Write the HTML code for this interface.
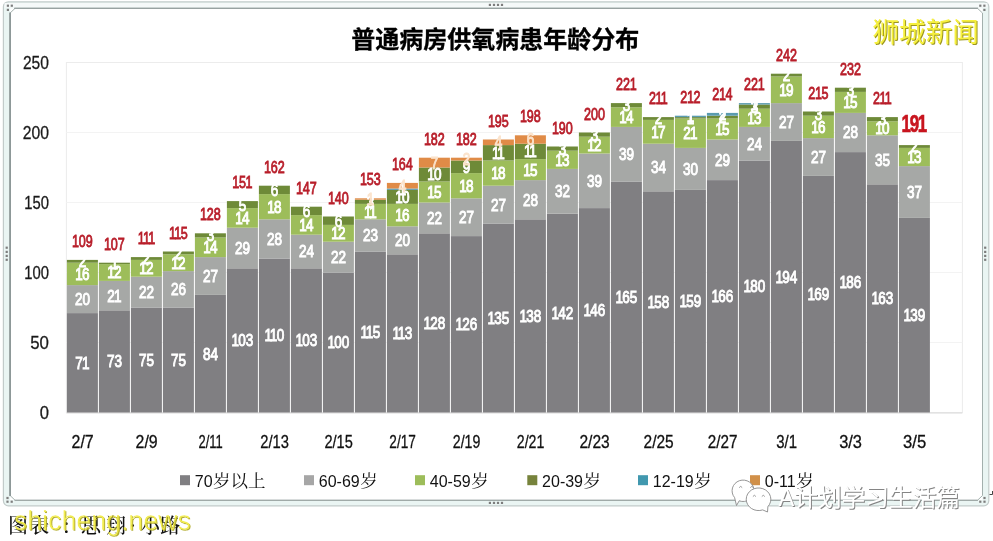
<!DOCTYPE html>
<html lang="zh"><head><meta charset="utf-8"><title>普通病房供氧病患年龄分布</title>
<style>
html,body{margin:0;padding:0;background:#fff;}
body{width:993px;height:541px;overflow:hidden;}
svg{display:block;}
text{font-family:"Liberation Sans","Noto Sans CJK SC",sans-serif;}
.ax{font-family:"Liberation Sans",sans-serif;}
.seg{font-family:"Liberation Sans",sans-serif;font-weight:normal;stroke:#fff;stroke-width:0.95px;}
.seg.o{stroke:#fbe3cc;}
.tot{font-family:"Liberation Sans",sans-serif;font-weight:normal;stroke:#b81e2a;stroke-width:0.85px;}
.tot.b{font-weight:bold;stroke:#c8141e;stroke-width:0.7px;}
.cjk{font-family:"Liberation Sans","Noto Sans CJK SC",sans-serif;}
.lat{font-family:"Liberation Sans","Noto Serif CJK SC",sans-serif;}
.song{font-family:"Liberation Serif","Noto Serif CJK SC",serif;}
</style></head><body>
<svg width="993" height="541" viewBox="0 0 993 541">
<rect x="3.4" y="1.8" width="985.4" height="504" rx="5" ry="5" fill="#eaf5f3" stroke="#c2cbca" stroke-width="1.2"/>
<rect x="4.5" y="3" width="983" height="4.6" fill="#f5f9f9"/>
<rect x="10.2" y="8.3" width="972.3" height="492" fill="#ffffff"/>
<path d="M10.1 495.500V13l5-4.700H977.500l5 4.700V495.500l-5 4.800H15.100z" fill="#ffffff" stroke="#a3b0ad" stroke-width="1"/>
<line x1="10.1" x2="10.1" y1="12.500" y2="496" stroke="#8b9595" stroke-width="1.700"/>
<line x1="14" x2="978" y1="8.3" y2="8.3" stroke="#8f9898" stroke-width="1.100"/>
<line x1="14.500" x2="978" y1="500.3" y2="500.3" stroke="#9aa3a2" stroke-width="1.100"/>
<rect x="488.8" y="3.8" width="2.200" height="2.200" fill="#7d7d7d"/>
<rect x="488.8" y="501.8" width="2.200" height="2.200" fill="#7d7d7d"/>
<rect x="492.9" y="3.8" width="2.200" height="2.200" fill="#7d7d7d"/>
<rect x="492.9" y="501.8" width="2.200" height="2.200" fill="#7d7d7d"/>
<rect x="496.9" y="3.8" width="2.200" height="2.200" fill="#7d7d7d"/>
<rect x="496.9" y="501.8" width="2.200" height="2.200" fill="#7d7d7d"/>
<rect x="500.9" y="3.8" width="2.200" height="2.200" fill="#7d7d7d"/>
<rect x="500.9" y="501.8" width="2.200" height="2.200" fill="#7d7d7d"/>
<rect x="5.6" y="246.6" width="2.200" height="2.200" fill="#7d7d7d"/>
<rect x="984.1" y="246.6" width="2.200" height="2.200" fill="#7d7d7d"/>
<rect x="5.6" y="250.8" width="2.200" height="2.200" fill="#7d7d7d"/>
<rect x="984.1" y="250.8" width="2.200" height="2.200" fill="#7d7d7d"/>
<rect x="5.6" y="254.8" width="2.200" height="2.200" fill="#7d7d7d"/>
<rect x="984.1" y="254.8" width="2.200" height="2.200" fill="#7d7d7d"/>
<rect x="5.6" y="258.7" width="2.200" height="2.200" fill="#7d7d7d"/>
<rect x="984.1" y="258.7" width="2.200" height="2.200" fill="#7d7d7d"/>
<rect x="6.8" y="4.6" width="2.200" height="2.200" fill="#7d7d7d"/>
<rect x="10.7" y="4.6" width="2.200" height="2.200" fill="#7d7d7d"/>
<rect x="6.8" y="8.8" width="2.200" height="2.200" fill="#7d7d7d"/>
<rect x="979.2" y="4.6" width="2.200" height="2.200" fill="#7d7d7d"/>
<rect x="983.3" y="4.6" width="2.200" height="2.200" fill="#7d7d7d"/>
<rect x="983.3" y="8.8" width="2.200" height="2.200" fill="#7d7d7d"/>
<rect x="6.4" y="496.9" width="2.200" height="2.200" fill="#7d7d7d"/>
<rect x="6.4" y="500.6" width="2.200" height="2.200" fill="#7d7d7d"/>
<rect x="10.6" y="500.6" width="2.200" height="2.200" fill="#7d7d7d"/>
<rect x="983.4" y="496.9" width="2.200" height="2.200" fill="#7d7d7d"/>
<rect x="983.4" y="500.6" width="2.200" height="2.200" fill="#7d7d7d"/>
<rect x="979.2" y="500.6" width="2.200" height="2.200" fill="#7d7d7d"/>
<rect x="66.4" y="62.5" width="896.0" height="350.0" fill="#ffffff" stroke="#ececec" stroke-width="1"/>
<line x1="66.4" x2="962.4" y1="342.5" y2="342.5" stroke="#f3f3f3" stroke-width="1"/>
<line x1="66.4" x2="962.4" y1="272.5" y2="272.5" stroke="#f3f3f3" stroke-width="1"/>
<line x1="66.4" x2="962.4" y1="202.5" y2="202.5" stroke="#f3f3f3" stroke-width="1"/>
<line x1="66.4" x2="962.4" y1="132.5" y2="132.5" stroke="#f3f3f3" stroke-width="1"/>
<line x1="66.4" x2="962.4" y1="413.0" y2="413.0" stroke="#d9d9d9" stroke-width="1"/>
<text x="48.9" y="419.0" text-anchor="end" font-size="18" fill="#1a1a1a" stroke="#1a1a1a" stroke-width="0.3" textLength="9.2" lengthAdjust="spacingAndGlyphs" class="ax">0</text>
<text x="48.9" y="349.0" text-anchor="end" font-size="18" fill="#1a1a1a" stroke="#1a1a1a" stroke-width="0.3" textLength="18.7" lengthAdjust="spacingAndGlyphs" class="ax">50</text>
<text x="48.9" y="279.0" text-anchor="end" font-size="18" fill="#1a1a1a" stroke="#1a1a1a" stroke-width="0.3" textLength="24.7" lengthAdjust="spacingAndGlyphs" class="ax">100</text>
<text x="48.9" y="209.0" text-anchor="end" font-size="18" fill="#1a1a1a" stroke="#1a1a1a" stroke-width="0.3" textLength="24.7" lengthAdjust="spacingAndGlyphs" class="ax">150</text>
<text x="48.9" y="139.0" text-anchor="end" font-size="18" fill="#1a1a1a" stroke="#1a1a1a" stroke-width="0.3" textLength="26.2" lengthAdjust="spacingAndGlyphs" class="ax">200</text>
<text x="48.9" y="69.0" text-anchor="end" font-size="18" fill="#1a1a1a" stroke="#1a1a1a" stroke-width="0.3" textLength="26.0" lengthAdjust="spacingAndGlyphs" class="ax">250</text>
<rect x="66.9" y="313.10" width="31.0" height="99.40" fill="#807f82"/>
<rect x="66.9" y="285.10" width="31.0" height="28.00" fill="#a6a8a6"/>
<rect x="66.9" y="262.70" width="31.0" height="22.40" fill="#9dbd5a"/>
<rect x="66.9" y="259.90" width="31.0" height="2.80" fill="#6e8a38"/>
<rect x="98.9" y="310.30" width="31.0" height="102.20" fill="#807f82"/>
<rect x="98.9" y="280.90" width="31.0" height="29.40" fill="#a6a8a6"/>
<rect x="98.9" y="264.10" width="31.0" height="16.80" fill="#9dbd5a"/>
<rect x="98.9" y="262.70" width="31.0" height="1.40" fill="#6e8a38"/>
<rect x="130.9" y="307.50" width="31.0" height="105.00" fill="#807f82"/>
<rect x="130.9" y="276.70" width="31.0" height="30.80" fill="#a6a8a6"/>
<rect x="130.9" y="259.90" width="31.0" height="16.80" fill="#9dbd5a"/>
<rect x="130.9" y="257.10" width="31.0" height="2.80" fill="#6e8a38"/>
<rect x="162.9" y="307.50" width="31.0" height="105.00" fill="#807f82"/>
<rect x="162.9" y="271.10" width="31.0" height="36.40" fill="#a6a8a6"/>
<rect x="162.9" y="254.30" width="31.0" height="16.80" fill="#9dbd5a"/>
<rect x="162.9" y="251.50" width="31.0" height="2.80" fill="#6e8a38"/>
<rect x="194.9" y="294.90" width="31.0" height="117.60" fill="#807f82"/>
<rect x="194.9" y="257.10" width="31.0" height="37.80" fill="#a6a8a6"/>
<rect x="194.9" y="237.50" width="31.0" height="19.60" fill="#9dbd5a"/>
<rect x="194.9" y="233.30" width="31.0" height="4.20" fill="#6e8a38"/>
<rect x="226.9" y="268.30" width="31.0" height="144.20" fill="#807f82"/>
<rect x="226.9" y="227.70" width="31.0" height="40.60" fill="#a6a8a6"/>
<rect x="226.9" y="208.10" width="31.0" height="19.60" fill="#9dbd5a"/>
<rect x="226.9" y="201.10" width="31.0" height="7.00" fill="#6e8a38"/>
<rect x="258.9" y="258.50" width="31.0" height="154.00" fill="#807f82"/>
<rect x="258.9" y="219.30" width="31.0" height="39.20" fill="#a6a8a6"/>
<rect x="258.9" y="194.10" width="31.0" height="25.20" fill="#9dbd5a"/>
<rect x="258.9" y="185.70" width="31.0" height="8.40" fill="#6e8a38"/>
<rect x="290.9" y="268.30" width="31.0" height="144.20" fill="#807f82"/>
<rect x="290.9" y="234.70" width="31.0" height="33.60" fill="#a6a8a6"/>
<rect x="290.9" y="215.10" width="31.0" height="19.60" fill="#9dbd5a"/>
<rect x="290.9" y="206.70" width="31.0" height="8.40" fill="#6e8a38"/>
<rect x="322.9" y="272.50" width="31.0" height="140.00" fill="#807f82"/>
<rect x="322.9" y="241.70" width="31.0" height="30.80" fill="#a6a8a6"/>
<rect x="322.9" y="224.90" width="31.0" height="16.80" fill="#9dbd5a"/>
<rect x="322.9" y="216.50" width="31.0" height="8.40" fill="#6e8a38"/>
<rect x="354.9" y="251.50" width="31.0" height="161.00" fill="#807f82"/>
<rect x="354.9" y="219.30" width="31.0" height="32.20" fill="#a6a8a6"/>
<rect x="354.9" y="203.90" width="31.0" height="15.40" fill="#9dbd5a"/>
<rect x="354.9" y="199.70" width="31.0" height="4.20" fill="#6e8a38"/>
<rect x="354.9" y="198.30" width="31.0" height="1.40" fill="#e08b47"/>
<rect x="386.9" y="254.30" width="31.0" height="158.20" fill="#807f82"/>
<rect x="386.9" y="226.30" width="31.0" height="28.00" fill="#a6a8a6"/>
<rect x="386.9" y="203.90" width="31.0" height="22.40" fill="#9dbd5a"/>
<rect x="386.9" y="189.90" width="31.0" height="14.00" fill="#6e8a38"/>
<rect x="386.9" y="188.50" width="31.0" height="1.40" fill="#5a9bb0"/>
<rect x="386.9" y="182.90" width="31.0" height="5.60" fill="#e08b47"/>
<rect x="418.9" y="233.30" width="31.0" height="179.20" fill="#807f82"/>
<rect x="418.9" y="202.50" width="31.0" height="30.80" fill="#a6a8a6"/>
<rect x="418.9" y="181.50" width="31.0" height="21.00" fill="#9dbd5a"/>
<rect x="418.9" y="167.50" width="31.0" height="14.00" fill="#6e8a38"/>
<rect x="418.9" y="157.70" width="31.0" height="9.80" fill="#e08b47"/>
<rect x="450.9" y="236.10" width="31.0" height="176.40" fill="#807f82"/>
<rect x="450.9" y="198.30" width="31.0" height="37.80" fill="#a6a8a6"/>
<rect x="450.9" y="173.10" width="31.0" height="25.20" fill="#9dbd5a"/>
<rect x="450.9" y="160.50" width="31.0" height="12.60" fill="#6e8a38"/>
<rect x="450.9" y="157.70" width="31.0" height="2.80" fill="#e08b47"/>
<rect x="482.9" y="223.50" width="31.0" height="189.00" fill="#807f82"/>
<rect x="482.9" y="185.70" width="31.0" height="37.80" fill="#a6a8a6"/>
<rect x="482.9" y="160.50" width="31.0" height="25.20" fill="#9dbd5a"/>
<rect x="482.9" y="145.10" width="31.0" height="15.40" fill="#6e8a38"/>
<rect x="482.9" y="139.50" width="31.0" height="5.60" fill="#e08b47"/>
<rect x="514.9" y="219.30" width="31.0" height="193.20" fill="#807f82"/>
<rect x="514.9" y="180.10" width="31.0" height="39.20" fill="#a6a8a6"/>
<rect x="514.9" y="159.10" width="31.0" height="21.00" fill="#9dbd5a"/>
<rect x="514.9" y="143.70" width="31.0" height="15.40" fill="#6e8a38"/>
<rect x="514.9" y="135.30" width="31.0" height="8.40" fill="#e08b47"/>
<rect x="546.9" y="213.70" width="31.0" height="198.80" fill="#807f82"/>
<rect x="546.9" y="168.90" width="31.0" height="44.80" fill="#a6a8a6"/>
<rect x="546.9" y="150.70" width="31.0" height="18.20" fill="#9dbd5a"/>
<rect x="546.9" y="146.50" width="31.0" height="4.20" fill="#6e8a38"/>
<rect x="578.9" y="208.10" width="31.0" height="204.40" fill="#807f82"/>
<rect x="578.9" y="153.50" width="31.0" height="54.60" fill="#a6a8a6"/>
<rect x="578.9" y="136.70" width="31.0" height="16.80" fill="#9dbd5a"/>
<rect x="578.9" y="132.50" width="31.0" height="4.20" fill="#6e8a38"/>
<rect x="610.9" y="181.50" width="31.0" height="231.00" fill="#807f82"/>
<rect x="610.9" y="126.90" width="31.0" height="54.60" fill="#a6a8a6"/>
<rect x="610.9" y="107.30" width="31.0" height="19.60" fill="#9dbd5a"/>
<rect x="610.9" y="103.10" width="31.0" height="4.20" fill="#6e8a38"/>
<rect x="642.9" y="191.30" width="31.0" height="221.20" fill="#807f82"/>
<rect x="642.9" y="143.70" width="31.0" height="47.60" fill="#a6a8a6"/>
<rect x="642.9" y="119.90" width="31.0" height="23.80" fill="#9dbd5a"/>
<rect x="642.9" y="117.10" width="31.0" height="2.80" fill="#6e8a38"/>
<rect x="674.9" y="189.90" width="31.0" height="222.60" fill="#807f82"/>
<rect x="674.9" y="147.90" width="31.0" height="42.00" fill="#a6a8a6"/>
<rect x="674.9" y="118.50" width="31.0" height="29.40" fill="#9dbd5a"/>
<rect x="674.9" y="117.10" width="31.0" height="1.40" fill="#6e8a38"/>
<rect x="674.9" y="115.70" width="31.0" height="1.40" fill="#5a9bb0"/>
<rect x="706.9" y="180.10" width="31.0" height="232.40" fill="#807f82"/>
<rect x="706.9" y="139.50" width="31.0" height="40.60" fill="#a6a8a6"/>
<rect x="706.9" y="118.50" width="31.0" height="21.00" fill="#9dbd5a"/>
<rect x="706.9" y="115.70" width="31.0" height="2.80" fill="#6e8a38"/>
<rect x="706.9" y="112.90" width="31.0" height="2.80" fill="#5a9bb0"/>
<rect x="738.9" y="160.50" width="31.0" height="252.00" fill="#807f82"/>
<rect x="738.9" y="126.90" width="31.0" height="33.60" fill="#a6a8a6"/>
<rect x="738.9" y="108.70" width="31.0" height="18.20" fill="#9dbd5a"/>
<rect x="738.9" y="104.50" width="31.0" height="4.20" fill="#6e8a38"/>
<rect x="738.9" y="103.10" width="31.0" height="1.40" fill="#5a9bb0"/>
<rect x="770.9" y="140.90" width="31.0" height="271.60" fill="#807f82"/>
<rect x="770.9" y="103.10" width="31.0" height="37.80" fill="#a6a8a6"/>
<rect x="770.9" y="76.50" width="31.0" height="26.60" fill="#9dbd5a"/>
<rect x="770.9" y="73.70" width="31.0" height="2.80" fill="#6e8a38"/>
<rect x="802.9" y="175.90" width="31.0" height="236.60" fill="#807f82"/>
<rect x="802.9" y="138.10" width="31.0" height="37.80" fill="#a6a8a6"/>
<rect x="802.9" y="115.70" width="31.0" height="22.40" fill="#9dbd5a"/>
<rect x="802.9" y="111.50" width="31.0" height="4.20" fill="#6e8a38"/>
<rect x="834.9" y="152.10" width="31.0" height="260.40" fill="#807f82"/>
<rect x="834.9" y="112.90" width="31.0" height="39.20" fill="#a6a8a6"/>
<rect x="834.9" y="91.90" width="31.0" height="21.00" fill="#9dbd5a"/>
<rect x="834.9" y="87.70" width="31.0" height="4.20" fill="#6e8a38"/>
<rect x="866.9" y="184.30" width="31.0" height="228.20" fill="#807f82"/>
<rect x="866.9" y="135.30" width="31.0" height="49.00" fill="#a6a8a6"/>
<rect x="866.9" y="121.30" width="31.0" height="14.00" fill="#9dbd5a"/>
<rect x="866.9" y="117.10" width="31.0" height="4.20" fill="#6e8a38"/>
<rect x="898.9" y="217.90" width="31.0" height="194.60" fill="#807f82"/>
<rect x="898.9" y="166.10" width="31.0" height="51.80" fill="#a6a8a6"/>
<rect x="898.9" y="147.90" width="31.0" height="18.20" fill="#9dbd5a"/>
<rect x="898.9" y="145.10" width="31.0" height="2.80" fill="#6e8a38"/>
<text transform="translate(82.4,368.7) scale(0.82,1)" text-anchor="middle" font-size="16.5" fill="#ffffff" class="seg" dx="0 -0.70">71</text>
<text transform="translate(82.4,305.0) scale(0.82,1)" text-anchor="middle" font-size="16.5" fill="#ffffff" class="seg">20</text>
<text transform="translate(82.4,279.8) scale(0.82,1)" text-anchor="middle" font-size="16.5" fill="#ffffff" class="seg" dx="0 -0.70">16</text>
<text transform="translate(82.4,267.2) scale(0.82,1)" text-anchor="middle" font-size="16.5" fill="#ffffff" class="seg">2</text>
<text transform="translate(82.4,246.9) scale(0.74,1)" text-anchor="middle" font-size="17.0" fill="#b81e2a" class="tot" dx="0 -0.55 0">109</text>
<text transform="translate(114.4,367.3) scale(0.82,1)" text-anchor="middle" font-size="16.5" fill="#ffffff" class="seg">73</text>
<text transform="translate(114.4,301.5) scale(0.82,1)" text-anchor="middle" font-size="16.5" fill="#ffffff" class="seg" dx="0 -0.70">21</text>
<text transform="translate(114.4,278.4) scale(0.82,1)" text-anchor="middle" font-size="16.5" fill="#ffffff" class="seg" dx="0 -0.70">12</text>
<text transform="translate(114.4,269.3) scale(0.82,1)" text-anchor="middle" font-size="16.5" fill="#ffffff" class="seg">1</text>
<text transform="translate(114.4,249.7) scale(0.74,1)" text-anchor="middle" font-size="17.0" fill="#b81e2a" class="tot" dx="0 -0.55 0">107</text>
<text transform="translate(146.4,365.9) scale(0.82,1)" text-anchor="middle" font-size="16.5" fill="#ffffff" class="seg">75</text>
<text transform="translate(146.4,298.0) scale(0.82,1)" text-anchor="middle" font-size="16.5" fill="#ffffff" class="seg">22</text>
<text transform="translate(146.4,274.2) scale(0.82,1)" text-anchor="middle" font-size="16.5" fill="#ffffff" class="seg" dx="0 -0.70">12</text>
<text transform="translate(146.4,264.4) scale(0.82,1)" text-anchor="middle" font-size="16.5" fill="#ffffff" class="seg">2</text>
<text transform="translate(146.4,244.1) scale(0.74,1)" text-anchor="middle" font-size="17.0" fill="#b81e2a" class="tot" dx="0 -1.10 -1.10">111</text>
<text transform="translate(178.4,365.9) scale(0.82,1)" text-anchor="middle" font-size="16.5" fill="#ffffff" class="seg">75</text>
<text transform="translate(178.4,295.2) scale(0.82,1)" text-anchor="middle" font-size="16.5" fill="#ffffff" class="seg">26</text>
<text transform="translate(178.4,268.6) scale(0.82,1)" text-anchor="middle" font-size="16.5" fill="#ffffff" class="seg" dx="0 -0.70">12</text>
<text transform="translate(178.4,258.8) scale(0.82,1)" text-anchor="middle" font-size="16.5" fill="#ffffff" class="seg">2</text>
<text transform="translate(178.4,238.5) scale(0.74,1)" text-anchor="middle" font-size="17.0" fill="#b81e2a" class="tot" dx="0 -1.10 -0.55">115</text>
<text transform="translate(210.4,359.6) scale(0.82,1)" text-anchor="middle" font-size="16.5" fill="#ffffff" class="seg">84</text>
<text transform="translate(210.4,281.9) scale(0.82,1)" text-anchor="middle" font-size="16.5" fill="#ffffff" class="seg">27</text>
<text transform="translate(210.4,253.2) scale(0.82,1)" text-anchor="middle" font-size="16.5" fill="#ffffff" class="seg" dx="0 -0.70">14</text>
<text transform="translate(210.4,241.3) scale(0.82,1)" text-anchor="middle" font-size="16.5" fill="#ffffff" class="seg">3</text>
<text transform="translate(210.4,220.3) scale(0.74,1)" text-anchor="middle" font-size="17.0" fill="#b81e2a" class="tot" dx="0 -0.55 0">128</text>
<text transform="translate(242.4,346.3) scale(0.82,1)" text-anchor="middle" font-size="16.5" fill="#ffffff" class="seg" dx="0 -0.70 0">103</text>
<text transform="translate(242.4,253.9) scale(0.82,1)" text-anchor="middle" font-size="16.5" fill="#ffffff" class="seg">29</text>
<text transform="translate(242.4,223.8) scale(0.82,1)" text-anchor="middle" font-size="16.5" fill="#ffffff" class="seg" dx="0 -0.70">14</text>
<text transform="translate(242.4,210.5) scale(0.82,1)" text-anchor="middle" font-size="16.5" fill="#ffffff" class="seg">5</text>
<text transform="translate(242.4,188.1) scale(0.74,1)" text-anchor="middle" font-size="17.0" fill="#b81e2a" class="tot" dx="0 -0.55 -0.55">151</text>
<text transform="translate(274.4,341.4) scale(0.82,1)" text-anchor="middle" font-size="16.5" fill="#ffffff" class="seg" dx="0 -1.40 -0.70">110</text>
<text transform="translate(274.4,244.8) scale(0.82,1)" text-anchor="middle" font-size="16.5" fill="#ffffff" class="seg">28</text>
<text transform="translate(274.4,212.6) scale(0.82,1)" text-anchor="middle" font-size="16.5" fill="#ffffff" class="seg" dx="0 -0.70">18</text>
<text transform="translate(274.4,195.8) scale(0.82,1)" text-anchor="middle" font-size="16.5" fill="#ffffff" class="seg">6</text>
<text transform="translate(274.4,172.7) scale(0.74,1)" text-anchor="middle" font-size="17.0" fill="#b81e2a" class="tot" dx="0 -0.55 0">162</text>
<text transform="translate(306.4,346.3) scale(0.82,1)" text-anchor="middle" font-size="16.5" fill="#ffffff" class="seg" dx="0 -0.70 0">103</text>
<text transform="translate(306.4,257.4) scale(0.82,1)" text-anchor="middle" font-size="16.5" fill="#ffffff" class="seg">24</text>
<text transform="translate(306.4,230.8) scale(0.82,1)" text-anchor="middle" font-size="16.5" fill="#ffffff" class="seg" dx="0 -0.70">14</text>
<text transform="translate(306.4,216.8) scale(0.82,1)" text-anchor="middle" font-size="16.5" fill="#ffffff" class="seg">6</text>
<text transform="translate(306.4,193.7) scale(0.74,1)" text-anchor="middle" font-size="17.0" fill="#b81e2a" class="tot" dx="0 -0.55 0">147</text>
<text transform="translate(338.4,348.4) scale(0.82,1)" text-anchor="middle" font-size="16.5" fill="#ffffff" class="seg" dx="0 -0.70 0">100</text>
<text transform="translate(338.4,263.0) scale(0.82,1)" text-anchor="middle" font-size="16.5" fill="#ffffff" class="seg">22</text>
<text transform="translate(338.4,239.2) scale(0.82,1)" text-anchor="middle" font-size="16.5" fill="#ffffff" class="seg" dx="0 -0.70">12</text>
<text transform="translate(338.4,226.6) scale(0.82,1)" text-anchor="middle" font-size="16.5" fill="#ffffff" class="seg">6</text>
<text transform="translate(338.4,203.5) scale(0.74,1)" text-anchor="middle" font-size="17.0" fill="#b81e2a" class="tot" dx="0 -0.55 0">140</text>
<text transform="translate(370.4,337.9) scale(0.82,1)" text-anchor="middle" font-size="16.5" fill="#ffffff" class="seg" dx="0 -1.40 -0.70">115</text>
<text transform="translate(370.4,241.3) scale(0.82,1)" text-anchor="middle" font-size="16.5" fill="#ffffff" class="seg">23</text>
<text transform="translate(370.4,217.5) scale(0.82,1)" text-anchor="middle" font-size="16.5" fill="#ffffff" class="seg" dx="0 -1.40">11</text>
<text transform="translate(370.4,207.7) scale(0.82,1)" text-anchor="middle" font-size="16.5" fill="#ffffff" class="seg">3</text>
<text transform="translate(370.4,204.9) scale(0.82,1)" text-anchor="middle" font-size="16.5" fill="#fbe3cc" class="seg o">1</text>
<text transform="translate(370.4,185.3) scale(0.74,1)" text-anchor="middle" font-size="17.0" fill="#b81e2a" class="tot" dx="0 -0.55 0">153</text>
<text transform="translate(402.4,339.3) scale(0.82,1)" text-anchor="middle" font-size="16.5" fill="#ffffff" class="seg" dx="0 -1.40 -0.70">113</text>
<text transform="translate(402.4,246.2) scale(0.82,1)" text-anchor="middle" font-size="16.5" fill="#ffffff" class="seg">20</text>
<text transform="translate(402.4,221.0) scale(0.82,1)" text-anchor="middle" font-size="16.5" fill="#ffffff" class="seg" dx="0 -0.70">16</text>
<text transform="translate(402.4,202.8) scale(0.82,1)" text-anchor="middle" font-size="16.5" fill="#ffffff" class="seg" dx="0 -0.70">10</text>
<text transform="translate(402.4,195.1) scale(0.82,1)" text-anchor="middle" font-size="16.5" fill="#ffffff" class="seg">1</text>
<text transform="translate(402.4,191.6) scale(0.82,1)" text-anchor="middle" font-size="16.5" fill="#fbe3cc" class="seg o">4</text>
<text transform="translate(402.4,169.9) scale(0.74,1)" text-anchor="middle" font-size="17.0" fill="#b81e2a" class="tot" dx="0 -0.55 0">164</text>
<text transform="translate(434.4,328.8) scale(0.82,1)" text-anchor="middle" font-size="16.5" fill="#ffffff" class="seg" dx="0 -0.70 0">128</text>
<text transform="translate(434.4,223.8) scale(0.82,1)" text-anchor="middle" font-size="16.5" fill="#ffffff" class="seg">22</text>
<text transform="translate(434.4,197.9) scale(0.82,1)" text-anchor="middle" font-size="16.5" fill="#ffffff" class="seg" dx="0 -0.70">15</text>
<text transform="translate(434.4,180.4) scale(0.82,1)" text-anchor="middle" font-size="16.5" fill="#ffffff" class="seg" dx="0 -0.70">10</text>
<text transform="translate(434.4,168.5) scale(0.82,1)" text-anchor="middle" font-size="16.5" fill="#fbe3cc" class="seg o">7</text>
<text transform="translate(434.4,144.7) scale(0.74,1)" text-anchor="middle" font-size="17.0" fill="#b81e2a" class="tot" dx="0 -0.55 0">182</text>
<text transform="translate(466.4,330.2) scale(0.82,1)" text-anchor="middle" font-size="16.5" fill="#ffffff" class="seg" dx="0 -0.70 0">126</text>
<text transform="translate(466.4,223.1) scale(0.82,1)" text-anchor="middle" font-size="16.5" fill="#ffffff" class="seg">27</text>
<text transform="translate(466.4,191.6) scale(0.82,1)" text-anchor="middle" font-size="16.5" fill="#ffffff" class="seg" dx="0 -0.70">18</text>
<text transform="translate(466.4,172.7) scale(0.82,1)" text-anchor="middle" font-size="16.5" fill="#ffffff" class="seg">9</text>
<text transform="translate(466.4,165.0) scale(0.82,1)" text-anchor="middle" font-size="16.5" fill="#fbe3cc" class="seg o">2</text>
<text transform="translate(466.4,144.7) scale(0.74,1)" text-anchor="middle" font-size="17.0" fill="#b81e2a" class="tot" dx="0 -0.55 0">182</text>
<text transform="translate(498.4,323.9) scale(0.82,1)" text-anchor="middle" font-size="16.5" fill="#ffffff" class="seg" dx="0 -0.70 0">135</text>
<text transform="translate(498.4,210.5) scale(0.82,1)" text-anchor="middle" font-size="16.5" fill="#ffffff" class="seg">27</text>
<text transform="translate(498.4,179.0) scale(0.82,1)" text-anchor="middle" font-size="16.5" fill="#ffffff" class="seg" dx="0 -0.70">18</text>
<text transform="translate(498.4,158.7) scale(0.82,1)" text-anchor="middle" font-size="16.5" fill="#ffffff" class="seg" dx="0 -1.40">11</text>
<text transform="translate(498.4,148.2) scale(0.82,1)" text-anchor="middle" font-size="16.5" fill="#fbe3cc" class="seg o">4</text>
<text transform="translate(498.4,126.5) scale(0.74,1)" text-anchor="middle" font-size="17.0" fill="#b81e2a" class="tot" dx="0 -0.55 0">195</text>
<text transform="translate(530.4,321.8) scale(0.82,1)" text-anchor="middle" font-size="16.5" fill="#ffffff" class="seg" dx="0 -0.70 0">138</text>
<text transform="translate(530.4,205.6) scale(0.82,1)" text-anchor="middle" font-size="16.5" fill="#ffffff" class="seg">28</text>
<text transform="translate(530.4,175.5) scale(0.82,1)" text-anchor="middle" font-size="16.5" fill="#ffffff" class="seg" dx="0 -0.70">15</text>
<text transform="translate(530.4,157.3) scale(0.82,1)" text-anchor="middle" font-size="16.5" fill="#ffffff" class="seg" dx="0 -1.40">11</text>
<text transform="translate(530.4,145.4) scale(0.82,1)" text-anchor="middle" font-size="16.5" fill="#fbe3cc" class="seg o">6</text>
<text transform="translate(530.4,122.3) scale(0.74,1)" text-anchor="middle" font-size="17.0" fill="#b81e2a" class="tot" dx="0 -0.55 0">198</text>
<text transform="translate(562.4,319.0) scale(0.82,1)" text-anchor="middle" font-size="16.5" fill="#ffffff" class="seg" dx="0 -0.70 0">142</text>
<text transform="translate(562.4,197.2) scale(0.82,1)" text-anchor="middle" font-size="16.5" fill="#ffffff" class="seg">32</text>
<text transform="translate(562.4,165.7) scale(0.82,1)" text-anchor="middle" font-size="16.5" fill="#ffffff" class="seg" dx="0 -0.70">13</text>
<text transform="translate(562.4,154.5) scale(0.82,1)" text-anchor="middle" font-size="16.5" fill="#ffffff" class="seg">3</text>
<text transform="translate(562.4,133.5) scale(0.74,1)" text-anchor="middle" font-size="17.0" fill="#b81e2a" class="tot" dx="0 -0.55 0">190</text>
<text transform="translate(594.4,316.2) scale(0.82,1)" text-anchor="middle" font-size="16.5" fill="#ffffff" class="seg" dx="0 -0.70 0">146</text>
<text transform="translate(594.4,186.7) scale(0.82,1)" text-anchor="middle" font-size="16.5" fill="#ffffff" class="seg">39</text>
<text transform="translate(594.4,151.0) scale(0.82,1)" text-anchor="middle" font-size="16.5" fill="#ffffff" class="seg" dx="0 -0.70">12</text>
<text transform="translate(594.4,140.5) scale(0.82,1)" text-anchor="middle" font-size="16.5" fill="#ffffff" class="seg">3</text>
<text transform="translate(594.4,119.5) scale(0.74,1)" text-anchor="middle" font-size="17.0" fill="#b81e2a" class="tot">200</text>
<text transform="translate(626.4,302.9) scale(0.82,1)" text-anchor="middle" font-size="16.5" fill="#ffffff" class="seg" dx="0 -0.70 0">165</text>
<text transform="translate(626.4,160.1) scale(0.82,1)" text-anchor="middle" font-size="16.5" fill="#ffffff" class="seg">39</text>
<text transform="translate(626.4,123.0) scale(0.82,1)" text-anchor="middle" font-size="16.5" fill="#ffffff" class="seg" dx="0 -0.70">14</text>
<text transform="translate(626.4,111.1) scale(0.82,1)" text-anchor="middle" font-size="16.5" fill="#ffffff" class="seg">3</text>
<text transform="translate(626.4,90.1) scale(0.74,1)" text-anchor="middle" font-size="17.0" fill="#b81e2a" class="tot" dx="0 0 -0.55">221</text>
<text transform="translate(658.4,307.8) scale(0.82,1)" text-anchor="middle" font-size="16.5" fill="#ffffff" class="seg" dx="0 -0.70 0">158</text>
<text transform="translate(658.4,173.4) scale(0.82,1)" text-anchor="middle" font-size="16.5" fill="#ffffff" class="seg">34</text>
<text transform="translate(658.4,137.7) scale(0.82,1)" text-anchor="middle" font-size="16.5" fill="#ffffff" class="seg" dx="0 -0.70">17</text>
<text transform="translate(658.4,124.4) scale(0.82,1)" text-anchor="middle" font-size="16.5" fill="#ffffff" class="seg">2</text>
<text transform="translate(658.4,104.1) scale(0.74,1)" text-anchor="middle" font-size="17.0" fill="#b81e2a" class="tot" dx="0 -0.55 -1.10">211</text>
<text transform="translate(690.4,307.1) scale(0.82,1)" text-anchor="middle" font-size="16.5" fill="#ffffff" class="seg" dx="0 -0.70 0">159</text>
<text transform="translate(690.4,174.8) scale(0.82,1)" text-anchor="middle" font-size="16.5" fill="#ffffff" class="seg">30</text>
<text transform="translate(690.4,139.1) scale(0.82,1)" text-anchor="middle" font-size="16.5" fill="#ffffff" class="seg" dx="0 -0.70">21</text>
<text transform="translate(690.4,123.7) scale(0.82,1)" text-anchor="middle" font-size="16.5" fill="#ffffff" class="seg">1</text>
<text transform="translate(690.4,122.3) scale(0.82,1)" text-anchor="middle" font-size="16.5" fill="#ffffff" class="seg">1</text>
<text transform="translate(690.4,102.7) scale(0.74,1)" text-anchor="middle" font-size="17.0" fill="#b81e2a" class="tot" dx="0 -0.55 -0.55">212</text>
<text transform="translate(722.4,302.2) scale(0.82,1)" text-anchor="middle" font-size="16.5" fill="#ffffff" class="seg" dx="0 -0.70 0">166</text>
<text transform="translate(722.4,165.7) scale(0.82,1)" text-anchor="middle" font-size="16.5" fill="#ffffff" class="seg">29</text>
<text transform="translate(722.4,134.9) scale(0.82,1)" text-anchor="middle" font-size="16.5" fill="#ffffff" class="seg" dx="0 -0.70">15</text>
<text transform="translate(722.4,123.0) scale(0.82,1)" text-anchor="middle" font-size="16.5" fill="#ffffff" class="seg">2</text>
<text transform="translate(722.4,120.2) scale(0.82,1)" text-anchor="middle" font-size="16.5" fill="#ffffff" class="seg">2</text>
<text transform="translate(722.4,99.9) scale(0.74,1)" text-anchor="middle" font-size="17.0" fill="#b81e2a" class="tot" dx="0 -0.55 -0.55">214</text>
<text transform="translate(754.4,292.4) scale(0.82,1)" text-anchor="middle" font-size="16.5" fill="#ffffff" class="seg" dx="0 -0.70 0">180</text>
<text transform="translate(754.4,149.6) scale(0.82,1)" text-anchor="middle" font-size="16.5" fill="#ffffff" class="seg">24</text>
<text transform="translate(754.4,123.7) scale(0.82,1)" text-anchor="middle" font-size="16.5" fill="#ffffff" class="seg" dx="0 -0.70">13</text>
<text transform="translate(754.4,112.5) scale(0.82,1)" text-anchor="middle" font-size="16.5" fill="#ffffff" class="seg">3</text>
<text transform="translate(754.4,109.7) scale(0.82,1)" text-anchor="middle" font-size="16.5" fill="#ffffff" class="seg">1</text>
<text transform="translate(754.4,90.1) scale(0.74,1)" text-anchor="middle" font-size="17.0" fill="#b81e2a" class="tot" dx="0 0 -0.55">221</text>
<text transform="translate(786.4,282.6) scale(0.82,1)" text-anchor="middle" font-size="16.5" fill="#ffffff" class="seg" dx="0 -0.70 0">194</text>
<text transform="translate(786.4,127.9) scale(0.82,1)" text-anchor="middle" font-size="16.5" fill="#ffffff" class="seg">27</text>
<text transform="translate(786.4,95.7) scale(0.82,1)" text-anchor="middle" font-size="16.5" fill="#ffffff" class="seg" dx="0 -0.70">19</text>
<text transform="translate(786.4,81.0) scale(0.82,1)" text-anchor="middle" font-size="16.5" fill="#ffffff" class="seg">2</text>
<text transform="translate(786.4,60.7) scale(0.74,1)" text-anchor="middle" font-size="17.0" fill="#b81e2a" class="tot">242</text>
<text transform="translate(818.4,300.1) scale(0.82,1)" text-anchor="middle" font-size="16.5" fill="#ffffff" class="seg" dx="0 -0.70 0">169</text>
<text transform="translate(818.4,162.9) scale(0.82,1)" text-anchor="middle" font-size="16.5" fill="#ffffff" class="seg">27</text>
<text transform="translate(818.4,132.8) scale(0.82,1)" text-anchor="middle" font-size="16.5" fill="#ffffff" class="seg" dx="0 -0.70">16</text>
<text transform="translate(818.4,119.5) scale(0.82,1)" text-anchor="middle" font-size="16.5" fill="#ffffff" class="seg">3</text>
<text transform="translate(818.4,98.5) scale(0.74,1)" text-anchor="middle" font-size="17.0" fill="#b81e2a" class="tot" dx="0 -0.55 -0.55">215</text>
<text transform="translate(850.4,288.2) scale(0.82,1)" text-anchor="middle" font-size="16.5" fill="#ffffff" class="seg" dx="0 -0.70 0">186</text>
<text transform="translate(850.4,138.4) scale(0.82,1)" text-anchor="middle" font-size="16.5" fill="#ffffff" class="seg">28</text>
<text transform="translate(850.4,108.3) scale(0.82,1)" text-anchor="middle" font-size="16.5" fill="#ffffff" class="seg" dx="0 -0.70">15</text>
<text transform="translate(850.4,95.7) scale(0.82,1)" text-anchor="middle" font-size="16.5" fill="#ffffff" class="seg">3</text>
<text transform="translate(850.4,74.7) scale(0.74,1)" text-anchor="middle" font-size="17.0" fill="#b81e2a" class="tot">232</text>
<text transform="translate(882.4,304.3) scale(0.82,1)" text-anchor="middle" font-size="16.5" fill="#ffffff" class="seg" dx="0 -0.70 0">163</text>
<text transform="translate(882.4,165.7) scale(0.82,1)" text-anchor="middle" font-size="16.5" fill="#ffffff" class="seg">35</text>
<text transform="translate(882.4,134.2) scale(0.82,1)" text-anchor="middle" font-size="16.5" fill="#ffffff" class="seg" dx="0 -0.70">10</text>
<text transform="translate(882.4,125.1) scale(0.82,1)" text-anchor="middle" font-size="16.5" fill="#ffffff" class="seg">3</text>
<text transform="translate(882.4,104.1) scale(0.74,1)" text-anchor="middle" font-size="17.0" fill="#b81e2a" class="tot" dx="0 -0.55 -1.10">211</text>
<text transform="translate(914.4,321.1) scale(0.82,1)" text-anchor="middle" font-size="16.5" fill="#ffffff" class="seg" dx="0 -0.70 0">139</text>
<text transform="translate(914.4,197.9) scale(0.82,1)" text-anchor="middle" font-size="16.5" fill="#ffffff" class="seg">37</text>
<text transform="translate(914.4,162.9) scale(0.82,1)" text-anchor="middle" font-size="16.5" fill="#ffffff" class="seg" dx="0 -0.70">13</text>
<text transform="translate(914.4,152.4) scale(0.82,1)" text-anchor="middle" font-size="16.5" fill="#ffffff" class="seg">2</text>
<text transform="translate(914.4,132.1) scale(0.72,1)" text-anchor="middle" font-size="23.5" fill="#c8141e" class="tot b" dx="0 -1.80 -1.80">191</text>
<text x="82.6" y="448.3" text-anchor="middle" font-size="18" fill="#111" stroke="#111" stroke-width="0.3" textLength="22.2" lengthAdjust="spacingAndGlyphs" class="ax">2/7</text>
<text x="146.6" y="448.3" text-anchor="middle" font-size="18" fill="#111" stroke="#111" stroke-width="0.3" textLength="22.1" lengthAdjust="spacingAndGlyphs" class="ax">2/9</text>
<text x="210.6" y="448.3" text-anchor="middle" font-size="18" fill="#111" stroke="#111" stroke-width="0.3" textLength="24.3" lengthAdjust="spacingAndGlyphs" class="ax">2/11</text>
<text x="274.6" y="448.3" text-anchor="middle" font-size="18" fill="#111" stroke="#111" stroke-width="0.3" textLength="28.7" lengthAdjust="spacingAndGlyphs" class="ax">2/13</text>
<text x="338.6" y="448.3" text-anchor="middle" font-size="18" fill="#111" stroke="#111" stroke-width="0.3" textLength="28.4" lengthAdjust="spacingAndGlyphs" class="ax">2/15</text>
<text x="402.6" y="448.3" text-anchor="middle" font-size="18" fill="#111" stroke="#111" stroke-width="0.3" textLength="26.5" lengthAdjust="spacingAndGlyphs" class="ax">2/17</text>
<text x="466.6" y="448.3" text-anchor="middle" font-size="18" fill="#111" stroke="#111" stroke-width="0.3" textLength="27.6" lengthAdjust="spacingAndGlyphs" class="ax">2/19</text>
<text x="530.6" y="448.3" text-anchor="middle" font-size="18" fill="#111" stroke="#111" stroke-width="0.3" textLength="27.6" lengthAdjust="spacingAndGlyphs" class="ax">2/21</text>
<text x="594.6" y="448.3" text-anchor="middle" font-size="18" fill="#111" stroke="#111" stroke-width="0.3" textLength="30.3" lengthAdjust="spacingAndGlyphs" class="ax">2/23</text>
<text x="658.6" y="448.3" text-anchor="middle" font-size="18" fill="#111" stroke="#111" stroke-width="0.3" textLength="30.2" lengthAdjust="spacingAndGlyphs" class="ax">2/25</text>
<text x="722.6" y="448.3" text-anchor="middle" font-size="18" fill="#111" stroke="#111" stroke-width="0.3" textLength="29.7" lengthAdjust="spacingAndGlyphs" class="ax">2/27</text>
<text x="786.6" y="448.3" text-anchor="middle" font-size="18" fill="#111" stroke="#111" stroke-width="0.3" textLength="20.8" lengthAdjust="spacingAndGlyphs" class="ax">3/1</text>
<text x="850.6" y="448.3" text-anchor="middle" font-size="18" fill="#111" stroke="#111" stroke-width="0.3" textLength="22.8" lengthAdjust="spacingAndGlyphs" class="ax">3/3</text>
<text x="914.6" y="448.3" text-anchor="middle" font-size="18" fill="#111" stroke="#111" stroke-width="0.3" textLength="23.2" lengthAdjust="spacingAndGlyphs" class="ax">3/5</text>
<text x="495.3" y="48" text-anchor="middle" font-size="24" font-weight="bold" fill="#000" stroke="#000" stroke-width="0.3" class="cjk">普通病房供氧病患年龄分布</text>
<rect x="180.0" y="475.2" width="10" height="10" fill="#807f82"/>
<text x="194.8" y="486.9" font-size="16" fill="#111" class="lat">70<tspan class="song" font-size="17.5" dx="0.5">岁以上</tspan></text>
<rect x="304.0" y="475.2" width="10" height="10" fill="#a6a6a6"/>
<text x="318.8" y="486.9" font-size="16" fill="#111" class="lat">60-69<tspan class="song" font-size="17.5" dx="0.5">岁</tspan></text>
<rect x="415.0" y="475.2" width="10" height="10" fill="#9dbd5a"/>
<text x="429.8" y="486.9" font-size="16" fill="#111" class="lat">40-59<tspan class="song" font-size="17.5" dx="0.5">岁</tspan></text>
<rect x="527.3" y="475.2" width="10" height="10" fill="#77833c"/>
<text x="542.1" y="486.9" font-size="16" fill="#111" class="lat">20-39<tspan class="song" font-size="17.5" dx="0.5">岁</tspan></text>
<rect x="638.0" y="475.2" width="10" height="10" fill="#4198af"/>
<text x="652.8" y="486.9" font-size="16" fill="#111" class="lat">12-19<tspan class="song" font-size="17.5" dx="0.5">岁</tspan></text>
<rect x="750.0" y="475.2" width="10" height="10" fill="#d19049"/>
<text x="764.8" y="486.9" font-size="16" fill="#111" class="lat">0-11<tspan class="song" font-size="17.5" dx="0.5">岁</tspan></text>
<g class="wm">
<g fill="#ffffff" stroke="#8a8a8a" stroke-width="0.9" stroke-linejoin="round">
<path d="M734.6 497.6A11 10.7 0 1 1 739.2 500.8L736.500 505.500Z"/>
<path d="M762.7 509.9A12.3 11.3 0 1 1 767.9 506.6L767.500 512Z"/>
</g>
<g fill="none" stroke="#8f8f8f" stroke-width="0.9" stroke-linecap="round"><path d="M739.400 487.300q1.300-2.200 2.600 0"/><path d="M750.500 487.300q1.300-2.200 2.600 0"/><path d="M753.100 496.200q1.300-2.200 2.600 0"/><path d="M762 496.200q1.300-2.200 2.600 0"/></g>
<text x="779.4" y="506.5" font-size="23.700" fill="#858585" class="cjk">A计划学习生活篇</text>
<text x="778.4" y="505.5" font-size="23.700" fill="#ffffff" class="cjk">A计划学习生活篇</text>
</g>
<text x="873.5" y="43" font-size="27" fill="#9c9620" class="cjk" textLength="106.500" lengthAdjust="spacingAndGlyphs">狮城新闻</text>
<text x="872.5" y="42" font-size="27" fill="#f6f03e" class="cjk" textLength="106.500" lengthAdjust="spacingAndGlyphs">狮城新闻</text>
<path d="M989.500 494.500H992.500V491" fill="none" stroke="#444" stroke-width="1"/>
<text x="18.0" y="533.0" text-anchor="middle" font-size="20" font-weight="500" fill="#111" class="song">图</text>
<text x="39.3" y="533.0" text-anchor="middle" font-size="20" font-weight="500" fill="#111" class="song">表</text>
<text x="71.4" y="534.2" text-anchor="middle" font-size="20" font-weight="500" fill="#111" class="song">：</text>
<text x="91.0" y="533.0" text-anchor="middle" font-size="20" font-weight="500" fill="#111" class="song">思</text>
<text x="116.0" y="533.0" text-anchor="middle" font-size="20" font-weight="500" fill="#111" class="song">翔</text>
<text x="132.6" y="529.5" text-anchor="middle" font-size="13" font-weight="500" fill="#111" class="song">•</text>
<text x="150.5" y="533.0" text-anchor="middle" font-size="19" font-weight="500" fill="#111" class="song">小</text>
<text x="170.2" y="533.0" text-anchor="middle" font-size="20" font-weight="500" fill="#111" class="song">路</text>
<defs><mask id="thin" maskUnits="userSpaceOnUse" x="0" y="500" width="220" height="41"><text x="13.8" y="530" font-size="28.5" fill="#fff" stroke="#000" stroke-width="0.3" class="lat" textLength="177" lengthAdjust="spacingAndGlyphs">shicheng.news</text></mask></defs>
<g opacity="0.93">
<g transform="translate(1,1)"><text x="13.8" y="530" font-size="28.5" fill="#b0aa28" class="lat" textLength="177" lengthAdjust="spacingAndGlyphs" mask="url(#thin)">shicheng.news</text></g>
<text x="13.8" y="530" font-size="28.5" fill="#f2ec45" class="lat" textLength="177" lengthAdjust="spacingAndGlyphs" mask="url(#thin)">shicheng.news</text>
</g>
</svg>
</body></html>
